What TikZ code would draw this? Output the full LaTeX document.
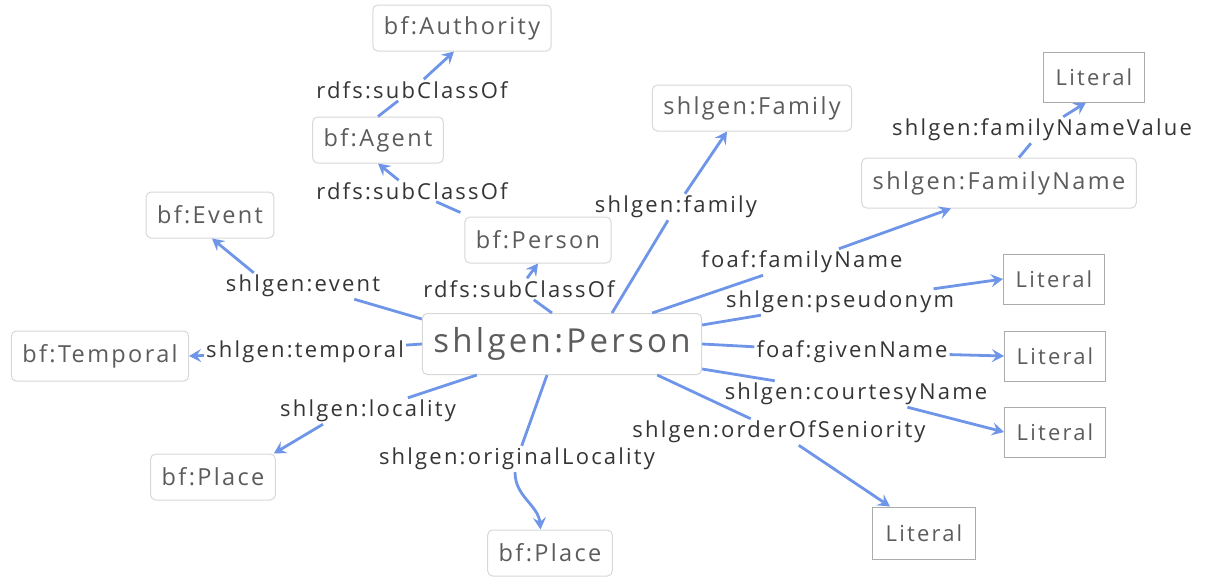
\documentclass[tikz,border=0pt]{standalone}
\usepackage{fontspec}
\setmainfont{Open Sans}[LetterSpace=10]
\usetikzlibrary{arrows.meta}
\definecolor{edgecol}{HTML}{6F95E8}
\definecolor{txtcol}{HTML}{353535}
\definecolor{ntxtcol}{HTML}{5C5C5C}
\definecolor{nbord}{HTML}{D8D8D8}
\definecolor{lbord}{HTML}{ABABAB}
\tikzset{
 cls/.style={draw=nbord, line width=1pt, rounded corners=5pt, fill=white, text=ntxtcol, font=\fontsize{23.5}{28}\selectfont, minimum height=46pt, inner xsep=11pt},
 lit/.style={draw=lbord, line width=1pt, fill=white, text=ntxtcol, font=\fontsize{22}{26}\selectfont, minimum height=50pt, minimum width=101pt},
 lab/.style={text=txtcol, font=\fontsize{22}{26}\selectfont, inner sep=2pt},
 rel/.style={draw=edgecol, line width=2.8pt},
 arr/.style={rel, -{Stealth[length=12pt,width=13pt,inset=4.5pt]}},
}
\begin{document}
\begin{tikzpicture}[x=1pt,y=-1pt]
\useasboundingbox[fill=white] (0,0) rectangle (1209,579);
% nodes
\node[cls] (auth) at (462,28) {bf:Authority};
\node[cls] (agent) at (378,140) {bf:Agent};
\node[cls] (bfperson) at (538,240) {bf:Person};
\node[cls, font=\fontsize{33}{38}\selectfont, minimum height=61pt, minimum width=279pt] (person) at (562,344) {shlgen:Person};
\node[cls] (event) at (210,215) {bf:Event};
\node[cls, minimum height=50pt] (temporal) at (100,356) {bf:Temporal};
\node[cls] (place1) at (213,477) {bf:Place};
\node[cls] (place2) at (550,553) {bf:Place};
\node[cls] (family) at (752,108) {shlgen:Family};
\node[cls, minimum height=50pt] (famname) at (999,183) {shlgen:FamilyName};
\node[lit] (lit0) at (1094,77) {Literal};
\node[lit] (lit1) at (1054,279) {Literal};
\node[lit] (lit2) at (1055,356) {Literal};
\node[lit] (lit3) at (1055,432) {Literal};
\node[lit, minimum height=52pt, minimum width=103pt] (lit4) at (924,533) {Literal};
% labels
\node[lab] (l1) at (412,90) {rdfs:subClassOf};
\node[lab] (l2) at (412,191) {rdfs:subClassOf};
\node[lab] (l3) at (519,289) {rdfs:subClassOf};
\node[lab] (l4) at (303,286) {shlgen:event};
\node[lab] (l5) at (305,352) {shlgen:temporal};
\node[lab] (l6) at (368,411) {shlgen:locality};
\node[lab] (l7) at (517,459) {shlgen:originalLocality};
\node[lab] (l8) at (779,432) {shlgen:orderOfSeniority};
\node[lab] (l9) at (856,394) {shlgen:courtesyName};
\node[lab] (l10) at (852,352) {foaf:givenName};
\node[lab] (l11) at (840,302) {shlgen:pseudonym};
\node[lab] (l12) at (802,262) {foaf:familyName};
\node[lab] (l13) at (676,207) {shlgen:family};
\node[lab] (l14) at (1042,130) {shlgen:familyNameValue};
% edges
\draw[rel] (agent.north) -- (l1);
\draw[arr] (l1) -- ([xshift=-8pt]auth.south);
\draw[rel] ([xshift=-4pt,yshift=4pt]bfperson.north west) -- (l2);
\draw[arr] (l2) -- (agent.south);
\draw[rel] ([xshift=-10pt]person.north) -- (l3);
\draw[arr] (l3) -- (bfperson.south);
\draw[rel] ([yshift=-6pt]person.north west) -- ([xshift=-28pt]l4.south east);
\draw[arr] ([xshift=30pt]l4.north west) -- ([xshift=2pt]event.south);
\draw[rel] (person.west) -- (l5);
\draw[arr] (l5) -- (temporal.east);
\draw[rel] ([xshift=55pt]person.south west) -- (l6);
\draw[arr] ([xshift=45pt]l6.south west) -- ([xshift=-2pt]place1.north east);
\draw[rel] ([xshift=-15pt]person.south) -- (l7);
\draw[arr] ([xshift=-2pt]l7.south) to[out=-90,in=95] (place2.112);
\draw[rel] ([xshift=-45pt]person.south east) -- (l8);
\draw[arr] (l8) -- ([xshift=18pt]lit4.north west);
\draw[rel] ([yshift=6pt]person.south east) -- (l9);
\draw[arr] (l9) -- (lit3.west);
\draw[rel] (person.east) -- (l10);
\draw[arr] (l10) -- (lit2.west);
\draw[rel] ([yshift=-12pt]person.north east) -- (l11);
\draw[arr] (l11) -- (lit1.west);
\draw[rel] ([xshift=-50pt]person.north east) -- (l12);
\draw[arr] (l12) -- ([xshift=-48pt]famname.south);
\draw[rel] ([xshift=50pt]person.north) -- (l13);
\draw[arr] (l13) -- ([xshift=-25pt]family.south);
\draw[rel] ([xshift=20pt]famname.north) -- (l14);
\draw[arr] (l14) -- ([xshift=-8pt]lit0.south);
\end{tikzpicture}
\end{document}
